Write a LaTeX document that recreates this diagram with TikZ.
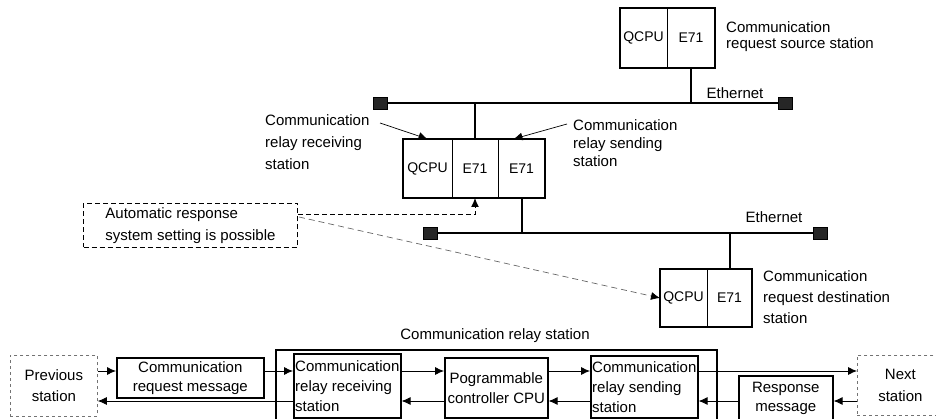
\documentclass[tikz,border=0pt]{standalone}
\usepackage{fontspec}
\setmainfont{Liberation Sans}
\usetikzlibrary{positioning, arrows.meta, calc}

\begin{document}
\begin{tikzpicture}[x=1pt, y=-1pt,
        txt/.style={font=\fontsize{15}{18}\selectfont, inner sep=0pt, align=left},
        cell/.style={draw, line width=0.8pt, inner sep=0pt, outer sep=0pt, font=\fontsize{14}{16}\selectfont},
        stationframe/.style={line width=2pt},
        term/.style={draw, fill=black!85, line width=0.6pt, minimum width=14pt, minimum height=12pt, inner sep=0pt},
        bus/.style={line width=2pt},
        ptr/.style={-{Latex[length=9pt,width=8pt]}, line width=0.7pt},
        block/.style={draw, line width=1.6pt, inner sep=2pt, anchor=north west, font=\fontsize{15}{20}\selectfont},
        ghost/.style={draw=black!55, dashed, line width=0.8pt, anchor=north west, font=\fontsize{15}{21}\selectfont},
        line/.style={-{Latex[length=9pt,width=8pt]}, line width=0.8pt}]

        \useasboundingbox (0,0) rectangle (936,419);
        \clip (0,0) rectangle (936,419);

        % Request source station
        \node [cell, minimum width=47pt, minimum height=60pt, anchor=north west] (srcQ) at (620,8) {QCPU};
        \node [cell, minimum width=48pt, minimum height=60pt, right=0pt of srcQ] (srcE) {E71};
        \draw [stationframe] (srcQ.north west) rectangle (srcE.south east);
        \node [txt, anchor=west, font=\fontsize{15}{16}\selectfont] (srclbl) at (726,37) {Communication\\request source station};

        % Ethernet (upper)
        \node [term] (t1l) at (380,103) {};
        \node [term] (t1r) at (785,103) {};
        \draw [bus] (t1l.east) -- (t1r.west);
        \node [txt] (eth1) at (735,93) {Ethernet};

        % Relay station
        \node [cell, minimum width=49pt, minimum height=59pt, anchor=north west] (relQ) at (403,139) {QCPU};
        \node [cell, minimum width=46pt, minimum height=59pt, right=0pt of relQ] (relE1) {E71};
        \node [cell, minimum width=47pt, minimum height=59pt, right=0pt of relE1] (relE2) {E71};
        \draw [stationframe] (relQ.north west) rectangle (relE2.south east);
        \draw [bus] (srcE.south) -- (srcE.south |- t1l);
        \draw [bus] (relE1.north) -- (relE1.north |- t1l);

        \node [txt, anchor=west, font=\fontsize{15}{22}\selectfont] (recvlbl) at (265,142) {Communication\\relay receiving\\station};
        \node [txt, anchor=west] (sendlbl) at (573,143) {Communication\\relay sending\\station};
        \coordinate (recvtail) at (380,123);
        \coordinate (sendtail) at (567,124);
        \draw [ptr] (recvtail) -- (relQ.north);
        \draw [ptr] (sendtail) -- ($(relE2.north)+(-8,0)$);

        % Ethernet (lower)
        \node [term] (t2l) at (430,233) {};
        \node [term] (t2r) at (820,233) {};
        \draw [bus] (t2l.east) -- (t2r.west);
        \node [txt] (eth2) at (774,217) {Ethernet};
        \draw [bus] (relE2.south) -- (relE2.south |- t2l);

        % Request destination station
        \node [cell, minimum width=47pt, minimum height=58pt, anchor=north west] (dstQ) at (660,269) {QCPU};
        \node [cell, minimum width=45pt, minimum height=58pt, right=0pt of dstQ] (dstE) {E71};
        \draw [stationframe] (dstQ.north west) rectangle (dstE.south east);
        \draw [bus] (dstE.north) -- (dstE.north |- t2l);
        \node [txt, anchor=west, font=\fontsize{15}{21}\selectfont] (dstlbl) at (763,297) {Communication\\request destination\\station};

        % Automatic response note
        \node [draw, line width=1pt, dash pattern=on 5pt off 3pt, anchor=north west, minimum width=214pt, minimum height=44pt,
               inner sep=0pt, align=left, font=\fontsize{15}{22}\selectfont] (auto) at (83,203) {Automatic response\\system setting is possible};
        \coordinate (autotail) at ($(auto.north east)+(0,12)$);
        \coordinate (autotail2) at ($(auto.north east)+(1,14)$);
        \draw [line width=1pt, dash pattern=on 5pt off 3pt, -{Latex[length=9pt,width=8pt]}] (autotail) -| (relE1.south);
        \draw [black!60, line width=0.7pt, dash pattern=on 6pt off 4pt, -{Latex[length=9pt,width=8pt,color=black]}] (autotail2) -- (dstQ.west);

        % Message flow through the relay station
        \node [draw, line width=1.8pt, anchor=north west, minimum width=441pt, minimum height=90pt] (relay) at (275,349) {};
        \node [txt] (relaylbl) at (495,336) {Communication relay station};

        \node [ghost, minimum width=87pt, minimum height=61pt, align=center] (prev) at (10,355) {Previous\\station};
        \node [block, minimum width=147pt, minimum height=40pt, align=center, font=\fontsize{15}{19}\selectfont] (req) at (116,357) {Communication\\request message};
        \node [block, minimum width=107pt, minimum height=64pt, align=left, inner sep=1pt] (recv) at (293,353) {Communication\\relay receiving\\station};
        \node [block, minimum width=103pt, minimum height=60pt, align=center] (cpu) at (444,357) {Pogrammable\\controller CPU};
        \node [block, minimum width=107pt, minimum height=62pt, align=left, inner sep=1pt] (send) at (590,355) {Communication\\relay sending\\station};
        \node [block, minimum width=94pt, minimum height=45pt, align=center, font=\fontsize{15}{19}\selectfont] (resp) at (738,375) {Response\\message};
        \node [ghost, minimum width=86pt, minimum height=60pt, align=center, font=\fontsize{15}{22}\selectfont] (next) at (857,355) {Next\\station};

        \coordinate (up) at (0,371);
        \coordinate (dn) at (0,401);
        \draw [line] (prev.east |- up) -- (req.west |- up);
        \draw [line] (req.east |- up) -- (recv.west |- up);
        \draw [line] (recv.west |- dn) -- (prev.east |- dn);
        \draw [line] (recv.east |- up) -- (cpu.west |- up);
        \draw [line] (cpu.west |- dn) -- (recv.east |- dn);
        \draw [line] (cpu.east |- up) -- (send.west |- up);
        \draw [line] (send.west |- dn) -- (cpu.east |- dn);
        \draw [line] (send.east |- up) -- (next.west |- up);
        \draw [line] (next.west |- dn) -- (resp.east |- dn);
        \draw [line] (resp.west |- dn) -- (send.east |- dn);
    \end{tikzpicture}
\end{document}
